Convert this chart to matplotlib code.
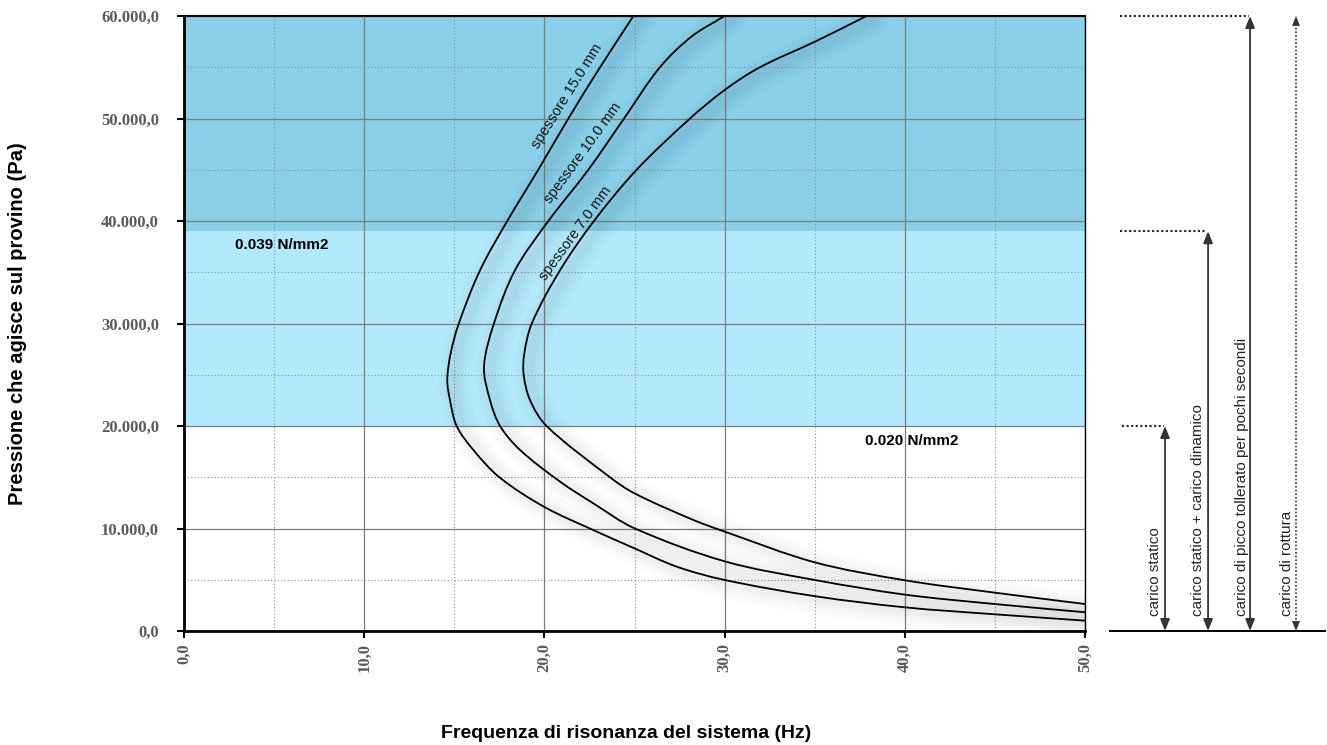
import math
import matplotlib
matplotlib.use("Agg")
import matplotlib.pyplot as plt
import matplotlib.transforms as mtransforms
from matplotlib.path import Path
from matplotlib.patches import PathPatch
from matplotlib.ticker import MultipleLocator, FuncFormatter

# ---------------- data ----------------
curve_names = ["spessore 15.0 mm", "spessore 10.0 mm", "spessore 7.0 mm"]

freq_15 = [24.94, 23.09, 21.33, 19.66, 17.94, 16.43, 15.25, 14.80, 14.61, 14.76, 15.13,
           16.06, 17.50, 20.00, 22.71, 25.00, 27.34, 30.00, 35.00, 40.00, 45.00, 50.00]
pres_15 = [60000, 55000, 50000, 45000, 40000, 35200, 30000, 27100, 24500, 22540, 20000,
           17660, 15000, 12100, 9850, 8065, 6280, 4980, 3400, 2310, 1630, 1010]

freq_10 = [30.00, 28.17, 26.41, 24.42, 22.44, 20.22, 18.37, 17.20, 16.65, 16.98, 17.54,
           18.65, 20.87, 22.71, 25.00, 30.00, 35.00, 40.00, 45.00, 50.00]
pres_10 = [60000, 58000, 55000, 50000, 45000, 40000, 35200, 30000, 25800, 22540, 20000,
           17660, 14570, 12460, 10020, 6800, 4980, 3550, 2630, 1830]

freq_7 = [37.88, 35.02, 31.96, 30.02, 28.08, 25.12, 22.75, 20.87, 19.30, 18.88, 18.85,
          19.20, 20.12, 23.64, 25.00, 28.27, 30.00, 35.00, 40.00, 45.00, 50.00]
pres_7 = [60000, 57500, 55000, 52800, 50000, 45000, 40000, 35200, 30000, 27000, 25000,
          22540, 20000, 15000, 13430, 10830, 9700, 6700, 4950, 3740, 2630]

band_limits = [0, 20000, 39000, 60000]          # Pa
band_texts = ["0.020 N/mm2", "0.039 N/mm2"]
load_labels = ["carico statico", "carico statico + carico dinamico",
               "carico di picco tollerato per pochi secondi", "carico di rottura"]
load_levels = [20000, 39000, 60000, 60000]

x_label = "Frequenza di risonanza del sistema (Hz)"
y_label = "Pressione che agisce sul provino (Pa)"

X_MAX, Y_MAX = 50, 60000
AX_W_PX, AX_H_PX = 901, 615


def smooth_path(xs, ys):
    """Smoothed Bezier path through the points (tangents computed in screen space)."""
    sx, sy = AX_W_PX / X_MAX, AX_H_PX / Y_MAX
    pts = [(x * sx, y * sy) for x, y in zip(xs, ys)]
    n = len(pts)
    tans = []
    for i in range(n):
        a = pts[max(i - 1, 0)]
        b = pts[min(i + 1, n - 1)]
        dx, dy = b[0] - a[0], b[1] - a[1]
        d = math.hypot(dx, dy) or 1.0
        tans.append((dx / d, dy / d))
    verts = [pts[0]]
    codes = [Path.MOVETO]
    for i in range(n - 1):
        p1, p2 = pts[i], pts[i + 1]
        L = math.hypot(p2[0] - p1[0], p2[1] - p1[1]) / 3
        c1 = (p1[0] + tans[i][0] * L, p1[1] + tans[i][1] * L)
        c2 = (p2[0] - tans[i + 1][0] * L, p2[1] - tans[i + 1][1] * L)
        verts += [c1, c2, p2]
        codes += [Path.CURVE4] * 3
    verts = [(vx / sx, vy / sy) for vx, vy in verts]
    return Path(verts, codes)


# ---------------- figure ----------------
W, H = 1327, 745
fig = plt.figure(figsize=(W / 100, H / 100), dpi=100)
ax = fig.add_axes([184 / W, 1 - 631 / H, (1085 - 184) / W, (631 - 16) / H])
ax.set_xlim(0, X_MAX)
ax.set_ylim(0, Y_MAX)

dark_blue = "#89cfe8"
light_blue = "#b3e9fc"
ax.axhspan(band_limits[1], band_limits[2], color=light_blue, lw=0, zorder=0)
ax.axhspan(band_limits[2], band_limits[3], color=dark_blue, lw=0, zorder=0)

# grid
ax.xaxis.set_major_locator(MultipleLocator(10))
ax.xaxis.set_minor_locator(MultipleLocator(5))
ax.yaxis.set_major_locator(MultipleLocator(10000))
ax.yaxis.set_minor_locator(MultipleLocator(5000))
ax.grid(which="major", color="#7c7c7c", lw=0.9, zorder=1)
ax.grid(which="minor", color="#8c8c8c", lw=0.8, ls=(0, (1, 2)), zorder=1)
ax.set_axisbelow(True)

# curves with soft shadow (offset right / slightly down)
series = [(freq_15, pres_15), (freq_10, pres_10), (freq_7, pres_7)]
shadow_tr = ax.transData + mtransforms.ScaledTranslation(7 / 100, -4 / 100, fig.dpi_scale_trans)
for fx, py in series:
    p = smooth_path(fx, py)
    for lw_s in [22, 16, 11, 6]:
        ax.add_patch(PathPatch(p, fill=False, edgecolor="black", lw=lw_s, alpha=0.017,
                               transform=shadow_tr, capstyle="round", joinstyle="round",
                               zorder=2))
for fx, py in series:
    ax.add_patch(PathPatch(smooth_path(fx, py), fill=False, edgecolor="black", lw=1.3,
                           zorder=3, joinstyle="round"))

# curve labels
label_pos = [(21.24, 52150, 58), (22.16, 46600, 54), (21.7, 38800, 54)]
for name, (lx, ly, rot) in zip(curve_names, label_pos):
    ax.text(lx, ly, name, rotation=rot, ha="center", va="center", rotation_mode="anchor",
            fontsize=10.5, family="Liberation Sans", color="#111111", zorder=4)

# band texts
ax.text(2.83, 37660, band_texts[1], ha="left", va="center", fontsize=11,
        fontweight="bold", family="Liberation Sans", zorder=4)
ax.text(37.8, 18540, band_texts[0], ha="left", va="center", fontsize=11,
        fontweight="bold", family="Liberation Sans", zorder=4)

# spines / ticks
for s in ["left", "bottom"]:
    ax.spines[s].set_linewidth(2.0)
ax.spines["top"].set_linewidth(1.5)
ax.spines["right"].set_linewidth(1.0)
for s in ax.spines.values():
    s.set_color("black")
    s.set_zorder(5)

fmt_y = FuncFormatter(lambda v, p: f"{v:,.1f}".replace(",", "X").replace(".", ",").replace("X", "."))
fmt_x = FuncFormatter(lambda v, p: f"{v:.1f}".replace(".", ","))
ax.yaxis.set_major_formatter(fmt_y)
ax.xaxis.set_major_formatter(fmt_x)
ax.tick_params(which="minor", length=0)
ax.tick_params(axis="y", which="major", direction="out", length=5, width=1.5, pad=13,
               labelsize=12, labelcolor="#5a5a5a")
ax.tick_params(axis="x", which="major", direction="out", length=5, width=1.5, pad=4,
               labelsize=12, labelcolor="#5a5a5a", labelrotation=90)
for lab in ax.get_xticklabels() + ax.get_yticklabels():
    lab.set_family("Liberation Serif")
    lab.set_fontweight("bold")
for lab in ax.get_xticklabels():
    lab.set_va("top")

fig.text(626 / W, 1 - 733 / H, x_label, ha="center", va="center", fontsize=14,
         fontweight="bold", family="Liberation Sans")
fig.text(18 / W, 1 - 324 / H, y_label, ha="center", va="center", rotation=90,
         fontsize=14.5, fontweight="bold", family="Liberation Sans")

# ---------------- right-hand load annotations ----------------
arrow_x = [54.44, 56.83, 59.16, 61.71]
text_x = [53.88, 56.27, 58.69, 61.19]
dot_start = [52.05, 51.94, 51.94, None]
ac = "#333333"
ax.plot([51.39, 63.32], [0, 0], color="black", lw=1.4, clip_on=False)
for i, (lab, lev) in enumerate(zip(load_labels, load_levels)):
    xa = arrow_x[i]
    if dot_start[i] is not None:
        ax.plot([dot_start[i], xa - 0.05], [lev, lev], color="#222222", lw=1.5,
                ls=(0, (1, 1.2)), clip_on=False)
    if i < 3:
        ax.annotate("", xy=(xa, lev), xytext=(xa, 0), annotation_clip=False,
                    arrowprops=dict(arrowstyle="<|-|>,head_length=0.7,head_width=0.28",
                                    color=ac, lw=1.3, shrinkA=0, shrinkB=0,
                                    mutation_scale=10))
    else:
        ax.plot([xa, xa], [400, lev - 500], color=ac, lw=1.2, ls=(0, (1, 1.2)), clip_on=False)
        for tip, tail in [(lev, lev - 800), (0, 800)]:
            ax.annotate("", xy=(xa, tip), xytext=(xa, tail), annotation_clip=False,
                        arrowprops=dict(arrowstyle="-|>,head_length=0.7,head_width=0.28",
                                        color=ac, lw=0.1, shrinkA=0, shrinkB=0,
                                        mutation_scale=10))
    ax.text(text_x[i], 1500, lab, rotation=90, ha="center", va="bottom", fontsize=11,
            family="Liberation Sans", color="#222222", clip_on=False)

fig.savefig("out.png", dpi=100)
